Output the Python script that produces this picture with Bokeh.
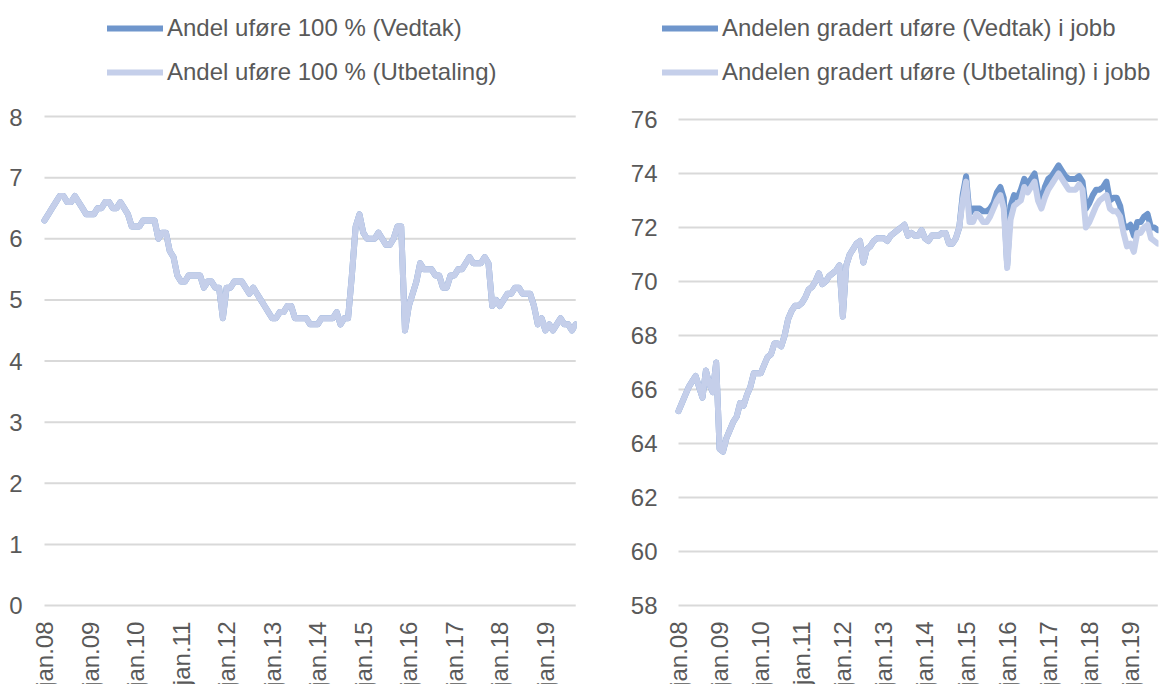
import math
from bokeh.plotting import figure
from bokeh.layouts import row, column
from bokeh.models import Range1d, FixedTicker, Legend, LegendItem
from bokeh.embed import file_html
from bokeh.resources import INLINE

# ---------------- data (monthly, jan.08 .. sep.19) ----------------
year_labels = ["jan.08", "jan.09", "jan.10", "jan.11", "jan.12", "jan.13",
               "jan.14", "jan.15", "jan.16", "jan.17", "jan.18", "jan.19"]

andel100_vedtak = [
    6.3, 6.4, 6.5, 6.6, 6.7, 6.7, 6.6, 6.6, 6.7, 6.6, 6.5, 6.4,
    6.4, 6.4, 6.5, 6.5, 6.6, 6.6, 6.5, 6.5, 6.6, 6.5, 6.4, 6.2,
    6.2, 6.2, 6.3, 6.3, 6.3, 6.3, 6.0, 6.1, 6.1, 5.8, 5.7, 5.4,
    5.3, 5.3, 5.4, 5.4, 5.4, 5.4, 5.2, 5.3, 5.3, 5.2, 5.2, 4.7,
    5.2, 5.2, 5.3, 5.3, 5.3, 5.2, 5.1, 5.2, 5.1, 5.0, 4.9, 4.8,
    4.7, 4.7, 4.8, 4.8, 4.9, 4.9, 4.7, 4.7, 4.7, 4.7, 4.6, 4.6,
    4.6, 4.7, 4.7, 4.7, 4.7, 4.8, 4.6, 4.7, 4.7, 5.4, 6.2, 6.4,
    6.1, 6.0, 6.0, 6.0, 6.1, 6.0, 5.9, 5.9, 6.0, 6.2, 6.2, 4.5,
    4.9, 5.1, 5.3, 5.6, 5.5, 5.5, 5.5, 5.4, 5.4, 5.2, 5.2, 5.4,
    5.4, 5.5, 5.5, 5.6, 5.7, 5.6, 5.6, 5.6, 5.7, 5.6, 4.9, 5.0,
    4.9, 5.0, 5.1, 5.1, 5.2, 5.2, 5.1, 5.1, 5.1, 4.9, 4.6, 4.7,
    4.5, 4.6, 4.5, 4.6, 4.7, 4.6, 4.6, 4.5, 4.6,
]

andel100_utbetaling = [
    6.3, 6.4, 6.5, 6.6, 6.7, 6.7, 6.6, 6.6, 6.7, 6.6, 6.5, 6.4,
    6.4, 6.4, 6.5, 6.5, 6.6, 6.6, 6.5, 6.5, 6.6, 6.5, 6.4, 6.2,
    6.2, 6.2, 6.3, 6.3, 6.3, 6.3, 6.0, 6.1, 6.1, 5.8, 5.7, 5.4,
    5.3, 5.3, 5.4, 5.4, 5.4, 5.4, 5.2, 5.3, 5.3, 5.2, 5.2, 4.7,
    5.2, 5.2, 5.3, 5.3, 5.3, 5.2, 5.1, 5.2, 5.1, 5.0, 4.9, 4.8,
    4.7, 4.7, 4.8, 4.8, 4.9, 4.9, 4.7, 4.7, 4.7, 4.7, 4.6, 4.6,
    4.6, 4.7, 4.7, 4.7, 4.7, 4.8, 4.6, 4.7, 4.7, 5.4, 6.2, 6.4,
    6.1, 6.0, 6.0, 6.0, 6.1, 6.0, 5.9, 5.9, 6.0, 6.2, 6.2, 4.5,
    4.9, 5.1, 5.3, 5.6, 5.5, 5.5, 5.5, 5.4, 5.4, 5.2, 5.2, 5.4,
    5.4, 5.5, 5.5, 5.6, 5.7, 5.6, 5.6, 5.6, 5.7, 5.6, 4.9, 5.0,
    4.9, 5.0, 5.1, 5.1, 5.2, 5.2, 5.1, 5.1, 5.1, 4.9, 4.6, 4.7,
    4.5, 4.6, 4.5, 4.6, 4.7, 4.6, 4.6, 4.5, 4.6,
]

gradert_vedtak = [
    65.2, 65.5, 65.8, 66.1, 66.3, 66.5, 66.1, 65.7, 66.7, 66.2, 65.9, 67.0,
    63.8, 63.7, 64.2, 64.5, 64.8, 65.0, 65.5, 65.4, 65.8, 66.1, 66.6, 66.6,
    66.6, 66.9, 67.2, 67.3, 67.7, 67.7, 67.6, 68.0, 68.6, 68.9, 69.1, 69.1,
    69.2, 69.4, 69.7, 69.8, 70.0, 70.3, 69.9, 70.0, 70.2, 70.3, 70.4, 70.6,
    68.7, 70.6, 71.0, 71.2, 71.4, 71.5, 70.7, 71.2, 71.3, 71.5, 71.6, 71.6,
    71.6, 71.5, 71.7, 71.8, 71.9, 72.0, 72.1, 71.7, 71.8, 71.7, 71.7, 71.9,
    71.6, 71.5, 71.7, 71.7, 71.7, 71.8, 71.8, 71.4, 71.4, 71.6, 72.0, 73.2,
    73.9, 72.5, 72.7, 72.7, 72.7, 72.6, 72.6, 72.7, 72.9, 73.3, 73.5, 73.1,
    70.6, 72.8, 73.2, 73.1, 73.4, 73.8, 73.6, 73.8, 74.0, 73.3, 72.9, 73.5,
    73.8, 73.9, 74.1, 74.3, 74.1, 73.9, 73.8, 73.8, 73.8, 73.9, 73.7, 72.7,
    72.9, 73.2, 73.4, 73.4, 73.5, 73.7, 73.0, 73.1, 73.1, 72.8, 72.1, 72.0,
    72.1, 71.7, 72.2, 72.2, 72.4, 72.5, 72.0, 72.0, 71.9,
]

gradert_utbetaling = [
    65.2, 65.5, 65.8, 66.1, 66.3, 66.5, 66.1, 65.7, 66.7, 66.2, 65.9, 67.0,
    63.8, 63.7, 64.2, 64.5, 64.8, 65.0, 65.5, 65.4, 65.8, 66.1, 66.6, 66.6,
    66.6, 66.9, 67.2, 67.3, 67.7, 67.7, 67.6, 68.0, 68.6, 68.9, 69.1, 69.1,
    69.2, 69.4, 69.7, 69.8, 70.0, 70.3, 69.9, 70.0, 70.2, 70.3, 70.4, 70.6,
    68.7, 70.6, 71.0, 71.2, 71.4, 71.5, 70.7, 71.2, 71.3, 71.5, 71.6, 71.6,
    71.6, 71.5, 71.7, 71.8, 71.9, 72.0, 72.1, 71.7, 71.8, 71.7, 71.7, 71.9,
    71.6, 71.5, 71.7, 71.7, 71.7, 71.8, 71.8, 71.4, 71.4, 71.6, 72.0, 73.0,
    73.7, 72.2, 72.2, 72.5, 72.4, 72.2, 72.2, 72.4, 72.7, 73.0, 73.2, 72.7,
    70.5, 72.3, 72.8, 72.9, 73.0, 73.5, 73.3, 73.5, 73.7, 73.0, 72.7, 73.1,
    73.4, 73.6, 73.8, 74.0, 73.8, 73.6, 73.4, 73.4, 73.4, 73.6, 73.4, 72.0,
    72.2, 72.5, 72.8, 73.0, 73.1, 73.2, 72.7, 72.6, 72.6, 72.4, 71.8, 71.3,
    71.4, 71.1, 71.8, 71.8, 72.0, 72.1, 71.6, 71.5, 71.4,
]

left_names = ["Andel uføre 100 % (Vedtak)", "Andel uføre 100 % (Utbetaling)"]
right_names = ["Andelen gradert uføre (Vedtak) i jobb",
               "Andelen gradert uføre (Utbetaling) i jobb"]
left_yticks = [0, 1, 2, 3, 4, 5, 6, 7, 8]
right_yticks = [58, 60, 62, 64, 66, 68, 70, 72, 74, 76]

# ---------------- styling ----------------
DARK = "#6F96CC"
LIGHT = "#C5CFEA"
GRID = "#D9D9D9"
TXT = "#595959"
FONT = "Liberation Sans"
LW = 6
LEG_H = 108          # height of the legend strip
MAIN_H = 576         # height of the chart panels
W1, W2 = 600, 559


def make_panel(width, bl, br, xr, yr, yticks, ybase, ystand, ser_v, ser_u):
    n = len(ser_u)
    x = list(range(n))
    p = figure(width=width, height=MAIN_H, output_backend="svg", toolbar_location=None,
               x_range=Range1d(*xr), y_range=Range1d(*yr),
               min_border_left=bl, min_border_right=br,
               min_border_top=0, min_border_bottom=0)
    p.outline_line_color = None
    p.background_fill_color = "white"
    p.border_fill_color = "white"

    # horizontal gridlines spanning the months of the series
    p.segment(x0=[x[0]] * len(yticks), x1=[x[-1]] * len(yticks), y0=yticks, y1=yticks,
              line_color=GRID, line_width=2)

    p.line(x, ser_v, line_color=DARK, line_width=LW, line_join="round", line_cap="round")
    p.line(x, ser_u, line_color=LIGHT, line_width=LW, line_join="round", line_cap="round")

    p.xaxis.ticker = FixedTicker(ticks=[12 * k for k in range(len(year_labels))])
    p.xaxis.major_label_overrides = {12 * k: lab for k, lab in enumerate(year_labels)}
    p.xaxis.major_label_orientation = math.pi / 2
    p.xaxis.fixed_location = ybase
    p.yaxis.ticker = FixedTicker(ticks=yticks)

    for ax in (p.xaxis[0], p.yaxis[0]):
        ax.axis_line_color = None
        ax.major_tick_line_color = None
        ax.minor_tick_line_color = None
        ax.major_tick_out = 0
        ax.major_tick_in = 0
        ax.minor_tick_out = 0
        ax.minor_tick_in = 0
        ax.major_label_text_font = FONT
        ax.major_label_text_font_size = "24px"
        ax.major_label_text_color = TXT
    p.yaxis.major_label_standoff = ystand
    p.xaxis.major_label_standoff = 16

    p.xgrid.grid_line_color = None
    p.ygrid.grid_line_color = None
    return p


# left: 61.125 px per unit, 8 at y 116, 0 at y 605 (panel spans y 108..684);
# months 0..140 span x 44..575, frame starts at x 30 so the first label fits
p1 = make_panel(W1, 30, 24, (-3.69, 140.2), (-1.292, 8.131), left_yticks, 0, 8,
                andel100_vedtak, andel100_utbetaling)
# right: 27 px per unit, 76 at y 119, 58 at y 605; months span x 678..1157
p2 = make_panel(W2, 64, 1, (-4.09, 140.2), (55.074, 76.407), right_yticks, 58, 7,
                gradert_vedtak, gradert_utbetaling)

# ---------------- legend strip ----------------
leg = figure(width=W1 + W2, height=LEG_H, output_backend="svg", toolbar_location=None,
             x_axis_type=None, y_axis_type=None,
             x_range=Range1d(0, 1), y_range=Range1d(100, 101),
             min_border_left=0, min_border_right=0, min_border_top=0, min_border_bottom=0)
leg.outline_line_color = None
leg.background_fill_color = "white"
leg.border_fill_color = "white"
# legend proxies: the series themselves, lying outside this strip's visible range
months = list(range(len(gradert_vedtak)))
rd = leg.line(months, gradert_vedtak, line_color=DARK, line_width=LW, line_cap="round")
rl = leg.line(months, gradert_utbetaling, line_color=LIGHT, line_width=LW, line_cap="round")


def make_legend(names, loc):
    return Legend(
        items=[LegendItem(label=names[0], renderers=[rd]),
               LegendItem(label=names[1], renderers=[rl])],
        location=loc, orientation="vertical",
        padding=0, margin=0, spacing=16,
        glyph_width=56, glyph_height=28, label_height=28, label_standoff=4,
        label_text_font=FONT, label_text_font_size="24px",
        label_text_color=TXT, border_line_color=None,
        background_fill_alpha=0,
    )


leg.add_layout(make_legend(left_names, (107, 22)))
leg.add_layout(make_legend(right_names, (662, 22)))

layout = column(leg, row(p1, p2))
open("out.html", "w").write(file_html(layout, INLINE))
